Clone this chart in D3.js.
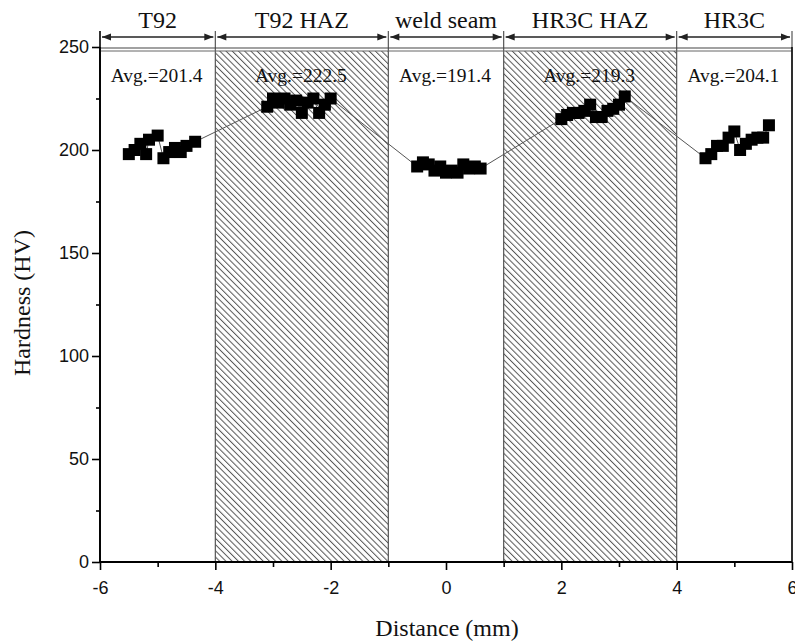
<!DOCTYPE html>
<html>
<head>
<meta charset="utf-8">
<script src="https://cdn.jsdelivr.net/npm/d3@7"></script>
<style>
  body { margin: 0; background: #fff; }
  svg { display: block; }
</style>
</head>
<body>
<svg id="chart" width="795" height="641"></svg>
<script>
// zones along the weld
var zoneNames = ["T92", "T92 HAZ", "weld seam", "HR3C HAZ", "HR3C"];
var zoneBounds = [[-6, -4], [-4, -1], [-1, 1], [1, 4], [4, 6]];
var zoneHatched = [false, true, false, true, false];
var zoneAvg = ["Avg.=201.4", "Avg.=222.5", "Avg.=191.4", "Avg.=219.3", "Avg.=204.1"];

// hardness measurements (distance in mm, HV)
var distT92 = [-5.5, -5.4, -5.3, -5.2, -5.15, -5.0, -4.9, -4.8, -4.7, -4.6, -4.5, -4.35];
var hvT92 = [198, 200, 203, 198, 205, 207, 196, 199, 201, 199, 202, 204];
var distT92Haz = [-3.1, -3.0, -2.9, -2.8, -2.7, -2.6, -2.5, -2.4, -2.3, -2.2, -2.1, -2.0];
var hvT92Haz = [221, 225, 223, 225, 222, 224, 218, 223, 225, 218, 222, 225];
var distWeld = [-0.5, -0.4, -0.3, -0.2, -0.1, 0.0, 0.1, 0.2, 0.3, 0.4, 0.5, 0.6];
var hvWeld = [192, 194, 193, 190, 192, 189, 190, 189, 193, 191, 192, 191];
var distHr3cHaz = [2.0, 2.1, 2.2, 2.3, 2.4, 2.5, 2.6, 2.7, 2.8, 2.9, 3.0, 3.1];
var hvHr3cHaz = [215, 217, 218, 218, 219, 222, 216, 216, 219, 220, 222, 226];
var distHr3c = [4.5, 4.6, 4.7, 4.8, 4.9, 5.0, 5.1, 5.2, 5.3, 5.4, 5.5, 5.6];
var hvHr3c = [196, 198, 202, 202, 206, 209, 200, 203, 205, 206, 206, 212];

var xTicks = [-6, -4, -2, 0, 2, 4, 6];
var yTicks = [0, 50, 100, 150, 200, 250];

var points = [];
[[distT92, hvT92], [distT92Haz, hvT92Haz], [distWeld, hvWeld],
 [distHr3cHaz, hvHr3cHaz], [distHr3c, hvHr3c]].forEach(function (s) {
    s[0].forEach(function (d, i) { points.push({ x: d, y: s[1][i] }); });
});

var svg = d3.select("#chart");
var mLeft = 100, mRight = 792, mTop = 47, mBottom = 562;

var x = d3.scaleLinear().domain([-6, 6]).range([mLeft, mRight]);
var y = d3.scaleLinear().domain([0, 250]).range([mBottom, mTop]);

var serif = "'Liberation Serif', 'Times New Roman', serif";
var sans = "'Liberation Sans', Arial, sans-serif";

// hatch pattern
var defs = svg.append("defs");
var pat = defs.append("pattern")
    .attr("id", "hatch")
    .attr("patternUnits", "userSpaceOnUse")
    .attr("width", 4.4).attr("height", 4.4)
    .attr("patternTransform", "rotate(-45)");
pat.append("rect").attr("width", 4.4).attr("height", 4.4).attr("fill", "#fff");
pat.append("line")
    .attr("x1", 0).attr("y1", 0).attr("x2", 0).attr("y2", 4.4)
    .attr("stroke", "#555").attr("stroke-width", 2);

var frameTop = mTop + 4;

svg.selectAll("rect.zone")
    .data(zoneBounds.filter(function (b, i) { return zoneHatched[i]; }))
    .enter().append("rect")
    .attr("class", "zone")
    .attr("x", function (b) { return x(b[0]); })
    .attr("y", frameTop)
    .attr("width", function (b) { return x(b[1]) - x(b[0]); })
    .attr("height", mBottom - frameTop)
    .attr("fill", "url(#hatch)");

// zone boundary lines extending into the header
var boundaries = [-6, -4, -1, 1, 4, 6];
svg.selectAll("line.bound")
    .data(boundaries)
    .enter().append("line")
    .attr("class", "bound")
    .attr("x1", function (d) { return x(d); })
    .attr("x2", function (d) { return x(d); })
    .attr("y1", 31)
    .attr("y2", mBottom)
    .attr("stroke", function (d) { return (d === -6) ? "#000" : "#555"; })
    .attr("stroke-width", function (d) { return (d === -6) ? 1.6 : 1.2; });

// double line at the top of the frame
svg.append("line").attr("x1", mLeft).attr("x2", mRight).attr("y1", mTop + 1).attr("y2", mTop + 1)
    .attr("stroke", "#444").attr("stroke-width", 1.2);
svg.append("line").attr("x1", mLeft).attr("x2", mRight).attr("y1", frameTop).attr("y2", frameTop)
    .attr("stroke", "#666").attr("stroke-width", 1);

// header arrows
var arrowY = 37;
var header = svg.append("g");
zoneBounds.forEach(function (b, i) {
    var x0 = x(b[0]) + 2, x1 = x(b[1]) - 2;
    header.append("line")
        .attr("x1", x0).attr("x2", x1).attr("y1", arrowY).attr("y2", arrowY)
        .attr("stroke", "#222").attr("stroke-width", 1.3);
    header.append("path")
        .attr("d", "M" + x0 + "," + arrowY + "l9,-3.5l0,7z")
        .attr("fill", "#222");
    header.append("path")
        .attr("d", "M" + x1 + "," + arrowY + "l-9,-3.5l0,7z")
        .attr("fill", "#222");
    header.append("text")
        .attr("x", x((b[0] + b[1]) / 2))
        .attr("y", 28)
        .attr("text-anchor", "middle")
        .attr("font-family", serif)
        .attr("font-size", 24)
        .attr("fill", "#111")
        .text(zoneNames[i]);
    header.append("text")
        .attr("x", x((b[0] + b[1]) / 2) - 1)
        .attr("y", 82)
        .attr("text-anchor", "middle")
        .attr("font-family", serif)
        .attr("font-size", 19.5)
        .attr("fill", "#111")
        .text(zoneAvg[i]);
});

// connecting line and markers
var line = d3.line().x(function (d) { return x(d.x); }).y(function (d) { return y(d.y); });
svg.append("path")
    .datum(points)
    .attr("d", line)
    .attr("fill", "none")
    .attr("stroke", "#555")
    .attr("stroke-width", 1);

var size = 12;
svg.selectAll("rect.pt")
    .data(points)
    .enter().append("rect")
    .attr("class", "pt")
    .attr("x", function (d) { return x(d.x) - size / 2; })
    .attr("y", function (d) { return y(d.y) - size / 2; })
    .attr("width", size).attr("height", size)
    .attr("fill", "#000");

// axes
var xAxis = svg.append("g")
    .attr("transform", "translate(0," + mBottom + ")")
    .call(d3.axisBottom(x).tickValues(d3.range(-6, 7, 1)).tickSize(7)
        .tickFormat(function (d) { return xTicks.indexOf(d) >= 0 ? d : ""; }));
xAxis.selectAll("line").attr("stroke-width", 1.6)
    .attr("y2", function (d) { return xTicks.indexOf(d) >= 0 ? 8 : 5; });
xAxis.select(".domain").attr("stroke-width", 1.8).attr("d", "M" + mLeft + ",0H" + mRight);
xAxis.selectAll("text").attr("font-family", sans).attr("font-size", 18).attr("dy", "1.2em").attr("fill", "#111");

var yAxis = svg.append("g")
    .attr("transform", "translate(" + mLeft + ",0)")
    .call(d3.axisLeft(y).tickValues(d3.range(0, 251, 25)).tickSize(7)
        .tickFormat(function (d) { return yTicks.indexOf(d) >= 0 ? d : ""; }));
yAxis.selectAll("line").attr("stroke-width", 1.6)
    .attr("x2", function (d) { return yTicks.indexOf(d) >= 0 ? -8 : -4; });
yAxis.select(".domain").attr("stroke-width", 1.8).attr("d", "M0," + mBottom + "V" + mTop);
yAxis.selectAll("text").attr("font-family", sans).attr("font-size", 18).attr("x", -11).attr("fill", "#111");

// right frame
svg.append("line").attr("x1", mRight).attr("x2", mRight).attr("y1", mTop).attr("y2", mBottom)
    .attr("stroke", "#000").attr("stroke-width", 1.4);

// titles
svg.append("text")
    .attr("x", 447).attr("y", 636)
    .attr("text-anchor", "middle")
    .attr("font-family", serif).attr("font-size", 24).attr("fill", "#111")
    .text("Distance (mm)");
svg.append("text")
    .attr("transform", "translate(30,303) rotate(-90)")
    .attr("text-anchor", "middle")
    .attr("font-family", serif).attr("font-size", 24).attr("fill", "#111")
    .text("Hardness (HV)");
</script>
</body>
</html>
